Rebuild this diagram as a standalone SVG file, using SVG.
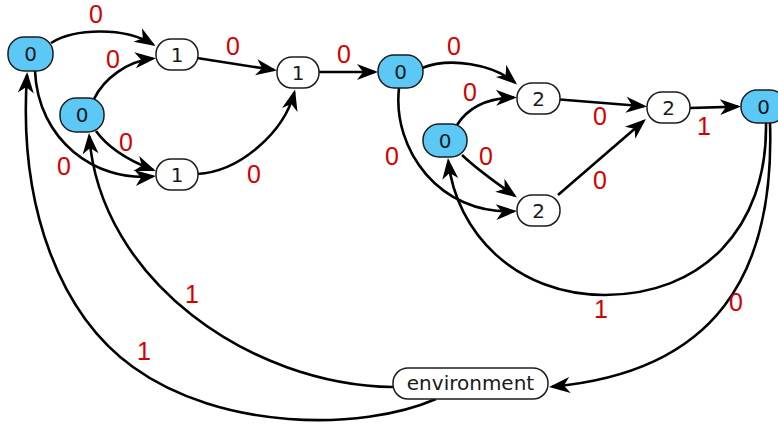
<svg xmlns="http://www.w3.org/2000/svg" width="778" height="428" viewBox="0 0 778 428">
  <style>
    .node rect { stroke: #1c1c1c; stroke-width: 1.5; }
    .blue rect { fill: #5bc8f6; }
    .white rect { fill: #ffffff; }
    .nt { font-family: "DejaVu Sans", sans-serif; font-size: 20px; fill: #1a1a1a; text-anchor: middle; }
    .env { font-size: 20px; }
    .edge { fill: none; stroke: #000; stroke-width: 2.6; marker-end: url(#arr); }
    .lbl { font-family: "Liberation Sans", Arial, sans-serif; font-size: 25px; fill: #d40000; text-anchor: middle; }
  </style>
  <defs>
    <marker id="arr" markerUnits="userSpaceOnUse" markerWidth="22" markerHeight="17" refX="18" refY="8" orient="auto" overflow="visible">
      <path d="M0,0 L21,8 L0,16 L6,8 Z" fill="#000"/>
    </marker>
  </defs>
  <rect width="778" height="428" fill="#ffffff"/>

  <!-- connectors -->
  <g id="edges">
    <path class="edge" d="M51,43 C75,28 125,27 153,44.5"/>
    <path class="edge" d="M94,99 C104,78 128,61 153,58.5"/>
    <path class="edge" d="M35,71 C38,140 95,182 153,176.3"/>
    <path class="edge" d="M96,131 C108,148 130,161 153,170"/>
    <path class="edge" d="M197,58 L274,70"/>
    <path class="edge" d="M197,174 C240,172 284,132 294.3,92.5"/>
    <path class="edge" d="M319,72 L375,72"/>
    <path class="edge" d="M422,68 C450,57 493,64 514.8,82.5"/>
    <path class="edge" d="M457,125 C469,106 489,98 514,97.5"/>
    <path class="edge" d="M399,88 C392,150 440,215 514,211.2"/>
    <path class="edge" d="M462,155 C480,172 498,184 514.5,195.7"/>
    <path class="edge" d="M560,99.5 L644,106.3"/>
    <path class="edge" d="M558,195 L643.7,121"/>
    <path class="edge" d="M690,108 L738,106.6"/>
    <path class="edge" d="M766,122.5 C768,230 700,295 605,295 C515,295 456,232 448.3,161"/>
    <path class="edge" d="M770,122.5 C775,275 715,372 552,386.7"/>
    <path class="edge" d="M393,387 C250,385 100,280 89.2,136"/>
    <path class="edge" d="M436,399 C360,432 220,430 133,367 C62,316 18,210 27,75"/>
  </g>

  <!-- edge labels -->
  <g id="labels">
    <text class="lbl" x="96" y="23">0</text>
    <text class="lbl" x="113" y="68">0</text>
    <text class="lbl" x="233" y="55">0</text>
    <text class="lbl" x="126" y="151">0</text>
    <text class="lbl" x="64" y="175">0</text>
    <text class="lbl" x="254" y="183">0</text>
    <text class="lbl" x="344" y="63">0</text>
    <text class="lbl" x="454" y="55">0</text>
    <text class="lbl" x="470" y="101">0</text>
    <text class="lbl" x="392" y="165">0</text>
    <text class="lbl" x="486" y="165">0</text>
    <text class="lbl" x="600" y="125">0</text>
    <text class="lbl" x="600" y="189">0</text>
    <text class="lbl" x="704" y="135">1</text>
    <text class="lbl" x="601" y="318">1</text>
    <text class="lbl" x="736" y="311">0</text>
    <text class="lbl" x="192" y="303">1</text>
    <text class="lbl" x="144" y="360">1</text>
  </g>

  <!-- nodes -->
  <g id="nA" class="node blue"><rect x="8" y="37" width="45" height="34" rx="16"/><text class="nt" x="30.5" y="61">0</text></g>
  <g id="nB" class="node blue"><rect x="60" y="98" width="44" height="34" rx="16"/><text class="nt" x="82" y="122">0</text></g>
  <g id="n1a" class="node white"><rect x="156" y="39" width="42" height="31" rx="15"/><text class="nt" x="177" y="61.5">1</text></g>
  <g id="n1b" class="node white"><rect x="156" y="159" width="42" height="31" rx="15"/><text class="nt" x="177" y="181.5">1</text></g>
  <g id="n1c" class="node white"><rect x="277" y="57" width="42" height="31" rx="15"/><text class="nt" x="298" y="79.5">1</text></g>
  <g id="nC" class="node blue"><rect x="378" y="55" width="45" height="33" rx="16"/><text class="nt" x="400.5" y="78.5">0</text></g>
  <g id="nD" class="node blue"><rect x="423" y="124" width="44" height="33" rx="16"/><text class="nt" x="445" y="147.5">0</text></g>
  <g id="n2a" class="node white"><rect x="517" y="83" width="43" height="31" rx="15"/><text class="nt" x="538.5" y="105.5">2</text></g>
  <g id="n2b" class="node white"><rect x="517" y="195" width="43" height="31" rx="15"/><text class="nt" x="538.5" y="217.5">2</text></g>
  <g id="n2c" class="node white"><rect x="647" y="92" width="43" height="31" rx="15"/><text class="nt" x="668.5" y="114.5">2</text></g>
  <g id="nE" class="node blue"><rect x="741" y="90" width="45" height="33" rx="16"/><text class="nt" x="763.5" y="113.5">0</text></g>
  <g id="nEnv" class="node white"><rect x="393" y="368" width="155" height="31" rx="15"/><text class="nt env" x="470.5" y="389.5">environment</text></g>
</svg>
